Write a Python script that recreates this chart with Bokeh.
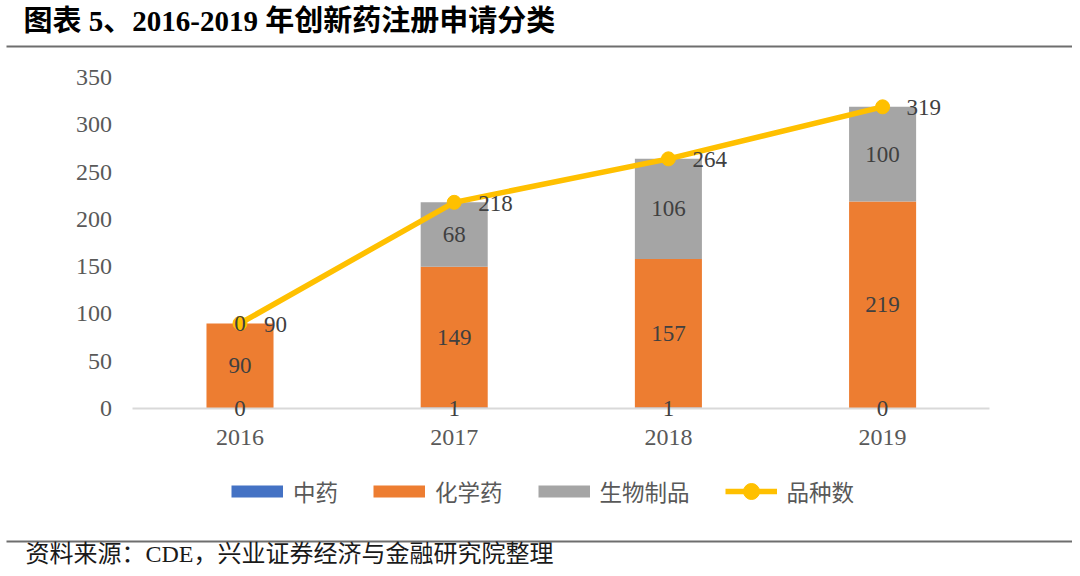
import numpy as np
from bokeh.plotting import figure
from bokeh.models import (ColumnDataSource, LabelSet, Label, BoxAnnotation, Legend,
                          LegendItem, Range1d, FixedTicker)
from bokeh.core.properties import value
from bokeh.embed import file_html
from bokeh.resources import INLINE

# ---------------- data ----------------
years = ["2016", "2017", "2018", "2019"]
tcm = [0, 1, 1, 0]             # 中药
chem = [90, 149, 157, 219]     # 化学药
bio = [0, 68, 106, 100]        # 生物制品
total = [90, 218, 264, 319]    # 品种数
y_ticks = [0, 50, 100, 150, 200, 250, 300, 350]
series_names = ["中药", "化学药", "生物制品", "品种数"]
title_text = "图表 5、2016-2019 年创新药注册申请分类"
source_text = "资料来源：CDE，兴业证券经济与金融研究院整理"

# ---------------- styles / layout ----------------
BLUE, ORANGE, GRAY, GOLD = "#4472C4", "#ED7D31", "#A5A5A5", "#FFC000"
NUM_FONT = "Liberation Serif"
CJK_FONT = "Noto Sans CJK SC"
MIX_FONT = "Liberation Serif, Noto Sans CJK SC"
LABEL_COLOR = "#404040"
TICK_COLOR = "#595959"
RULE_COLOR = "#6E6E6E"

W, H = 1072, 568            # canvas size (the frame fills the canvas)
PX0, PX_STEP = 239.5, 214.2  # pixel of first category, category spacing
PY0 = 408.0                  # pixel of value 0
PY_SCALE = 331.0 / 350.0     # pixels per value unit


def dx(px):
    return (px - PX0) / PX_STEP


def dy(py):
    return (PY0 - py) / PY_SCALE


xs = list(range(len(years)))
t = np.array(tcm, dtype=float)
c = np.array(chem, dtype=float)
b = np.array(bio, dtype=float)

src = ColumnDataSource(dict(
    x=xs,
    tcm_bot=np.zeros(len(xs)), tcm_top=t,
    chem_bot=t, chem_top=t + c,
    bio_bot=t + c, bio_top=t + c + b,
    tcm_mid=t / 2, chem_mid=t + c / 2, bio_mid=t + c + b / 2,
    total=total,
    tcm_txt=[str(v) for v in tcm],
    chem_txt=[str(v) for v in chem],
    bio_txt=[str(v) for v in bio],
    total_txt=[str(v) for v in total],
))

p = figure(width=W, height=H, x_range=Range1d(dx(0), dx(W)),
           y_range=Range1d(dy(H), dy(0)), output_backend="svg",
           toolbar_location=None, title=None, min_border=0)
p.outline_line_color = None
p.grid.visible = False
p.background_fill_color = "white"
p.border_fill_color = "white"

# axes drawn inside the canvas at fixed positions
p.yaxis.fixed_location = -0.5
p.yaxis.ticker = FixedTicker(ticks=y_ticks)
p.yaxis.axis_line_color = None
p.yaxis.major_tick_line_color = None
p.yaxis.minor_tick_line_color = None
p.yaxis.major_tick_out = 0
p.yaxis.major_tick_in = 0
p.yaxis.major_label_standoff = 21
p.yaxis.major_label_text_font = NUM_FONT
p.yaxis.major_label_text_font_size = "24px"
p.yaxis.major_label_text_color = TICK_COLOR

p.xaxis.fixed_location = 0
p.xaxis.bounds = (-0.5, len(years) - 0.5)
p.xaxis.ticker = FixedTicker(ticks=xs)
p.xaxis.major_label_overrides = {i: y for i, y in zip(xs, years)}
p.xaxis.axis_line_color = "#D9D9D9"
p.xaxis.axis_line_width = 2
p.xaxis.major_tick_line_color = None
p.xaxis.minor_tick_line_color = None
p.xaxis.major_tick_out = 0
p.xaxis.major_tick_in = 0
p.xaxis.major_label_standoff = 21
p.xaxis.major_label_text_font = NUM_FONT
p.xaxis.major_label_text_font_size = "24px"
p.xaxis.major_label_text_color = TICK_COLOR

# stacked bars
BW = 0.313
p.vbar(x="x", width=BW, bottom="tcm_bot", top="tcm_top", source=src,
       fill_color=BLUE, line_color=None)
p.vbar(x="x", width=BW, bottom="chem_bot", top="chem_top", source=src,
       fill_color=ORANGE, line_color=None)
p.vbar(x="x", width=BW, bottom="bio_bot", top="bio_top", source=src,
       fill_color=GRAY, line_color=None)

# total line
p.line(x="x", y="total", source=src, line_width=5.5, line_color=GOLD)
p.scatter(x="x", y="total", source=src, size=14, fill_color=GOLD, line_color=GOLD)


def add_labels(ycol, tcol, **kw):
    p.add_layout(LabelSet(x="x", y=ycol, text=tcol, source=src,
                          text_font=value(NUM_FONT), text_font_size="23px",
                          text_color=LABEL_COLOR, text_baseline="middle", **kw))


add_labels("tcm_mid", "tcm_txt", text_align="center")
add_labels("chem_mid", "chem_txt", text_align="center")
add_labels("bio_mid", "bio_txt", text_align="center")
add_labels("total", "total_txt", text_align="left", x_offset=24, y_offset=-1)

# legend swatches (off-view dummy renderers)
off_x, off_y = [dx(-50), dx(-40)], [dy(H + 50), dy(H + 50)]
lg_tcm = p.line(x=off_x, y=off_y, line_width=12, line_color=BLUE)
lg_chem = p.line(x=off_x, y=off_y, line_width=12, line_color=ORANGE)
lg_bio = p.line(x=off_x, y=off_y, line_width=12, line_color=GRAY)
lg_tot = p.line(x=off_x, y=off_y, line_width=5.5, line_color=GOLD)
lg_dot = p.scatter(x=off_x, y=off_y, fill_color=GOLD, line_color=GOLD)
legend = Legend(items=[
    LegendItem(label=series_names[0], renderers=[lg_tcm]),
    LegendItem(label=series_names[1], renderers=[lg_chem]),
    LegendItem(label=series_names[2], renderers=[lg_bio]),
    LegendItem(label=series_names[3], renderers=[lg_tot, lg_dot]),
], orientation="horizontal", location=(231, H - 511),
    glyph_width=52, glyph_height=40, label_standoff=10, spacing=35,
    padding=0, margin=0, border_line_color=None, background_fill_alpha=0,
    label_text_font=CJK_FONT, label_text_font_size="22.5px",
    label_text_color=TICK_COLOR)
p.add_layout(legend)

# title, rules and source note
p.add_layout(Label(x=dx(23), y=dy(20), text=title_text, text_font=MIX_FONT,
                   text_font_size="29px", text_font_style="bold",
                   text_baseline="middle", text_color="#000000"))
p.add_layout(BoxAnnotation(left=dx(6), right=dx(W), top=dy(45), bottom=dy(47),
                           fill_color=RULE_COLOR, fill_alpha=1, line_color=None))
p.add_layout(BoxAnnotation(left=dx(6), right=dx(W), top=dy(540), bottom=dy(542),
                           fill_color=RULE_COLOR, fill_alpha=1, line_color=None))
p.add_layout(Label(x=dx(25), y=dy(553), text=source_text, text_font=MIX_FONT,
                   text_font_size="24px", text_baseline="middle",
                   text_color="#1A1A1A"))

open("out.html", "w").write(file_html(p, INLINE))
